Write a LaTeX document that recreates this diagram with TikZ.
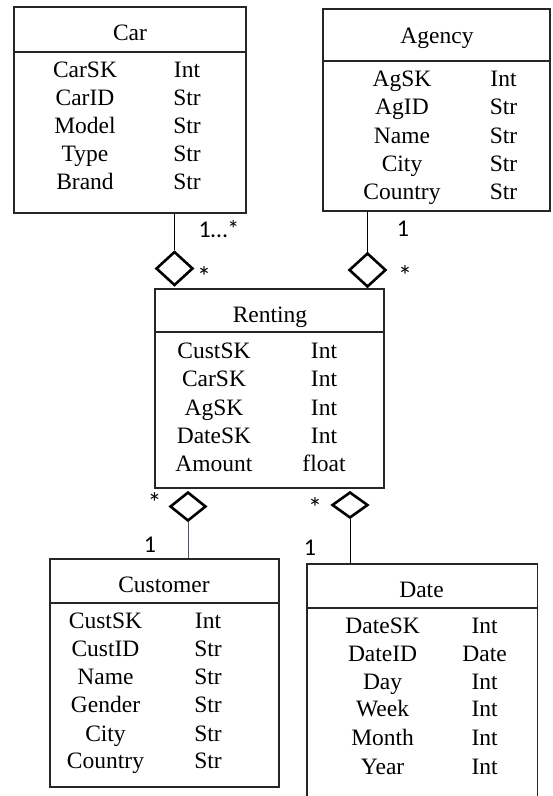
\documentclass[tikz,border=0pt]{standalone}
\usepackage{fontspec}
\setmainfont{Liberation Serif}
\newfontfamily\calfont{Carlito}
\usetikzlibrary{shapes.geometric}
\definecolor{boxcol}{HTML}{262626}
\definecolor{slate}{HTML}{44546A}
\begin{document}
\begin{tikzpicture}[x=1pt,y=-1pt,
  box/.style={draw=boxcol, line width=1.3pt, inner sep=0pt, rectangle},
  boxline/.style={draw=boxcol, line width=1.3pt},
  fld/.style={font=\rmfamily\fontsize{23.5}{28}\selectfont, anchor=base, inner sep=0pt},
  mult/.style={font=\calfont\fontsize{24}{28}\selectfont, inner sep=0pt},
  star/.style={font=\calfont\fontsize{28}{30}\selectfont, inner sep=0pt},
  agg/.style={diamond, draw=black, line width=2.6pt, inner sep=0pt},
  conn/.style={draw=black, line width=1pt}]
\useasboundingbox (0,0) rectangle (553,796);

% ---- Car ----
\node[box, minimum width=232pt, minimum height=206pt] (car) at (130,110) {};
\draw[boxline] (car.west |- 0,52) -- (car.east |- 0,52);
\node[fld] (cartitle) at (130,40) {Car};
\foreach \fname/\ftype/\fy [count=\k] in {CarSK/Int/77, CarID/Str/105, Model/Str/133, Type/Str/161, Brand/Str/189}{
  \node[fld] (carn\k) at (85,\fy) {\fname};
  \node[fld] (cart\k) at (187,\fy) {\ftype};
}

% ---- Agency ----
\node[box, minimum width=227pt, minimum height=202pt] (agency) at (436.5,110) {};
\draw[boxline] (agency.west |- 0,61) -- (agency.east |- 0,61);
\node[fld] (agtitle) at (437,43) {Agency};
\foreach \fname/\ftype/\fy [count=\k] in {AgSK/Int/86, AgID/Str/114, Name/Str/143, City/Str/171, Country/Str/199}{
  \node[fld] (agn\k) at (402,\fy) {\fname};
  \node[fld] (agt\k) at (503.5,\fy) {\ftype};
}

% ---- Renting ----
\node[box, minimum width=229pt, minimum height=199pt] (renting) at (269.5,388.5) {};
\draw[boxline] (renting.west |- 0,332) -- (renting.east |- 0,332);
\node[fld] (rentitle) at (270,322) {Renting};
\foreach \fname/\ftype/\fy [count=\k] in {CustSK/Int/358.3, CarSK/Int/386.7, AgSK/Int/415, DateSK/Int/443.3, Amount/float/471.7}{
  \node[fld] (renn\k) at (214,\fy) {\fname};
  \node[fld] (rent\k) at (324,\fy) {\ftype};
}

% ---- Customer ----
\node[box, minimum width=229pt, minimum height=228pt] (customer) at (164.5,673) {};
\draw[boxline] (customer.west |- 0,603) -- (customer.east |- 0,603);
\node[fld] (custitle) at (164,592) {Customer};
\foreach \fname/\ftype/\fy [count=\k] in {CustSK/Int/628.3, CustID/Str/656, Name/Str/684, Gender/Str/712.7, City/Str/741, Country/Str/768.7}{
  \node[fld] (cusn\k) at (105.5,\fy) {\fname};
  \node[fld] (cust\k) at (208,\fy) {\ftype};
}

% ---- Date (open at the bottom) ----
\node[inner sep=0pt, minimum width=230pt, minimum height=240pt, anchor=north west] (date) at (307,564) {};
\draw[boxline] (date.south west) -- (date.north west) -- (date.north east) -- (date.south east);
\draw[boxline] (date.west |- 0,608) -- (date.east |- 0,608);
\node[fld] (datetitle) at (421.5,597.7) {Date};
\foreach \fname/\ftype/\fy [count=\k] in {DateSK/Int/633.3, DateID/Date/661, Day/Int/689, Week/Int/716.7, Month/Int/745.7, Year/Int/774}{
  \node[fld] (daten\k) at (382.6,\fy) {\fname};
  \node[fld] (datet\k) at (484.6,\fy) {\ftype};
}

% ---- aggregation diamonds ----
\node[agg, minimum width=37pt, minimum height=34pt] (d1) at (174.5,268.5) {};
\node[agg, minimum width=37pt, minimum height=34pt] (d2) at (367.5,270) {};
\node[agg, minimum width=36pt, minimum height=29pt] (d3) at (188,506.5) {};
\node[agg, minimum width=36pt, minimum height=26pt] (d4) at (350,505) {};

% ---- connectors ----
\draw[conn] (car.south -| d1.north) -- (d1.north);
\draw[conn] (agency.south -| d2.north) -- (d2.north);
\draw[conn, draw=slate] (d3.south) -- (d3.south |- customer.north);
\draw[conn] (d4.south) -- (d4.south |- date.north);

% ---- multiplicities ----
\node[mult] (m1) at (219,229) {1…*};
\node[star] (m2) at (204,276.5) {*};
\node[mult] (m3) at (403,229) {1};
\node[star] (m4) at (405,275.5) {*};
\node[star] (m5) at (154.5,503) {*};
\node[mult] (m6) at (150,545) {1};
\node[star] (m7) at (315,507.5) {*};
\node[mult] (m8) at (310,548) {1};
\end{tikzpicture}
\end{document}
